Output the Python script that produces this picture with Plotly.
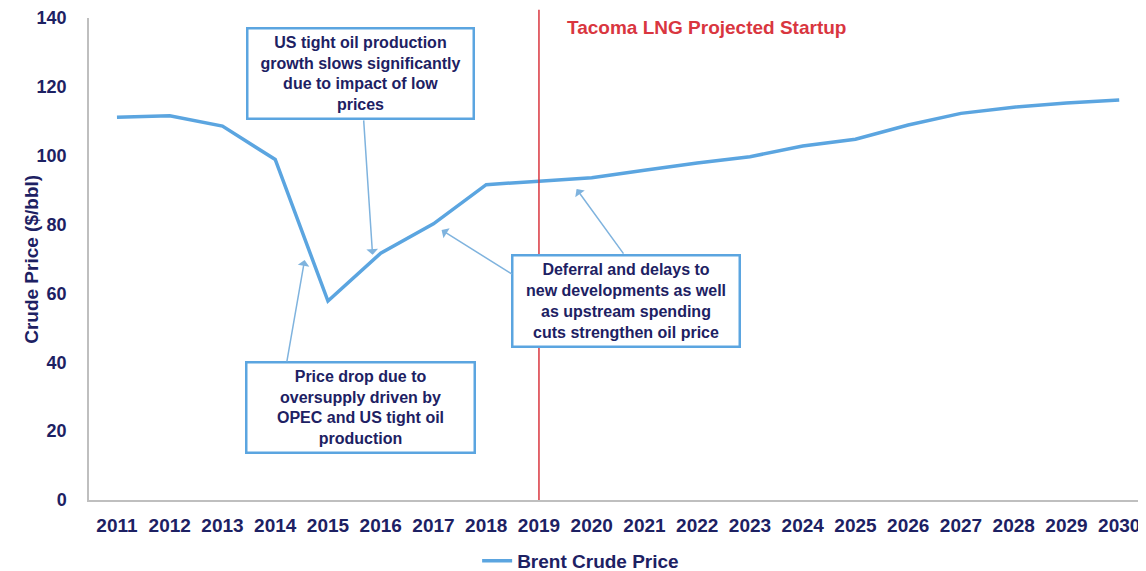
import plotly.graph_objects as go

years = list(range(2011, 2031))
brent_price = [111.2, 111.6, 108.6, 98.9, 57.8, 71.7, 80.2, 91.6, 92.6, 93.6,
               95.8, 97.9, 99.7, 102.8, 104.8, 108.9, 112.3, 114.1, 115.3, 116.2]
startup_year = 2019

navy = "#1d2163"
blue = "#5ba5e0"
arrow_blue = "#7fb3de"
red = "#d9363f"
font_family = "Arial, Liberation Sans, sans-serif"

fig = go.Figure()
fig.add_trace(go.Scatter(
    x=years, y=brent_price, mode="lines", name="Brent Crude Price",
    line=dict(color=blue, width=3.5),
))

fig.add_shape(type="line", x0=startup_year, x1=startup_year, xref="x",
              y0=0, y1=1.017, yref="paper", line=dict(color=red, width=1.5))

fig.add_annotation(x=2022.18, y=137.1, text="Tacoma LNG Projected Startup",
                   showarrow=False, font=dict(color=red, size=19, family=font_family, weight="bold"))

# y axis title as a rotated annotation so it sits where the original has it
fig.add_annotation(x=-0.067, y=0.5, xref="paper", yref="paper", text="Crude Price ($/bbl)",
                   textangle=-90, showarrow=False,
                   font=dict(color=navy, size=19, family=font_family, weight="bold"))

box_font = dict(color=navy, size=16, family=font_family, weight="bold")
boxes = [
    (2015.62, 124.0, "US tight oil production<br>growth slows significantly<br>due to impact of low<br>prices", 222, 86),
    (2015.61, 26.9, "Price drop due to<br>oversupply driven by<br>OPEC and US tight oil<br>production", 224, 86),
    (2020.65, 57.8, "Deferral and delays to<br>new developments as well<br>as upstream spending<br>cuts strengthen oil price", 223, 87),
]
for bx, by, txt, w, h in boxes:
    fig.add_annotation(x=bx, y=by, text=txt, showarrow=False, font=box_font,
                       bordercolor=blue, borderwidth=2.5, borderpad=1, bgcolor="white",
                       width=w, height=h, align="center")

# arrows: head in data units, tail offset in pixels
arrows = [(2014.557, 69.7, -18, 103), (2015.846, 71.2, -9, -136),
          (2017.154, 78.4, 72, 45), (2019.713, 90.3, 48, 66)]
for hx, hy, tx, ty in arrows:
    fig.add_annotation(x=hx, y=hy, ax=tx, ay=ty, text="", showarrow=True,
                       arrowhead=1, arrowsize=1.3, arrowwidth=1.5, arrowcolor=arrow_blue)

fig.update_xaxes(range=[2010.47, 2030.47], tickvals=years, ticktext=[str(y) for y in years],
                 tickfont=dict(color=navy, size=19, family=font_family, weight="bold"),
                 showgrid=False, zeroline=False, automargin=False, ticklabelstandoff=7,
                 showline=True, linecolor="#bfbfbf", linewidth=1.5, ticks="")
fig.update_yaxes(range=[0, 140], dtick=20, showgrid=False, zeroline=False, automargin=False,
                 tickfont=dict(color=navy, size=18, family=font_family, weight="bold"),
                 showline=True, linecolor="#bfbfbf", linewidth=1.5, ticks="", ticklabelstandoff=17)

# the page body adds 8px on the top and left, so the figure is sized to fit the window
fig.update_layout(
    width=1138, height=563,
    margin=dict(l=81, r=2, t=10, b=71),
    plot_bgcolor="white", paper_bgcolor="white",
    showlegend=True,
    legend=dict(orientation="h", x=0.466, xanchor="center", yref="container", y=0.018,
                yanchor="middle",
                font=dict(color=navy, size=19, family=font_family, weight="bold")),
)

fig.write_html("out.html")
